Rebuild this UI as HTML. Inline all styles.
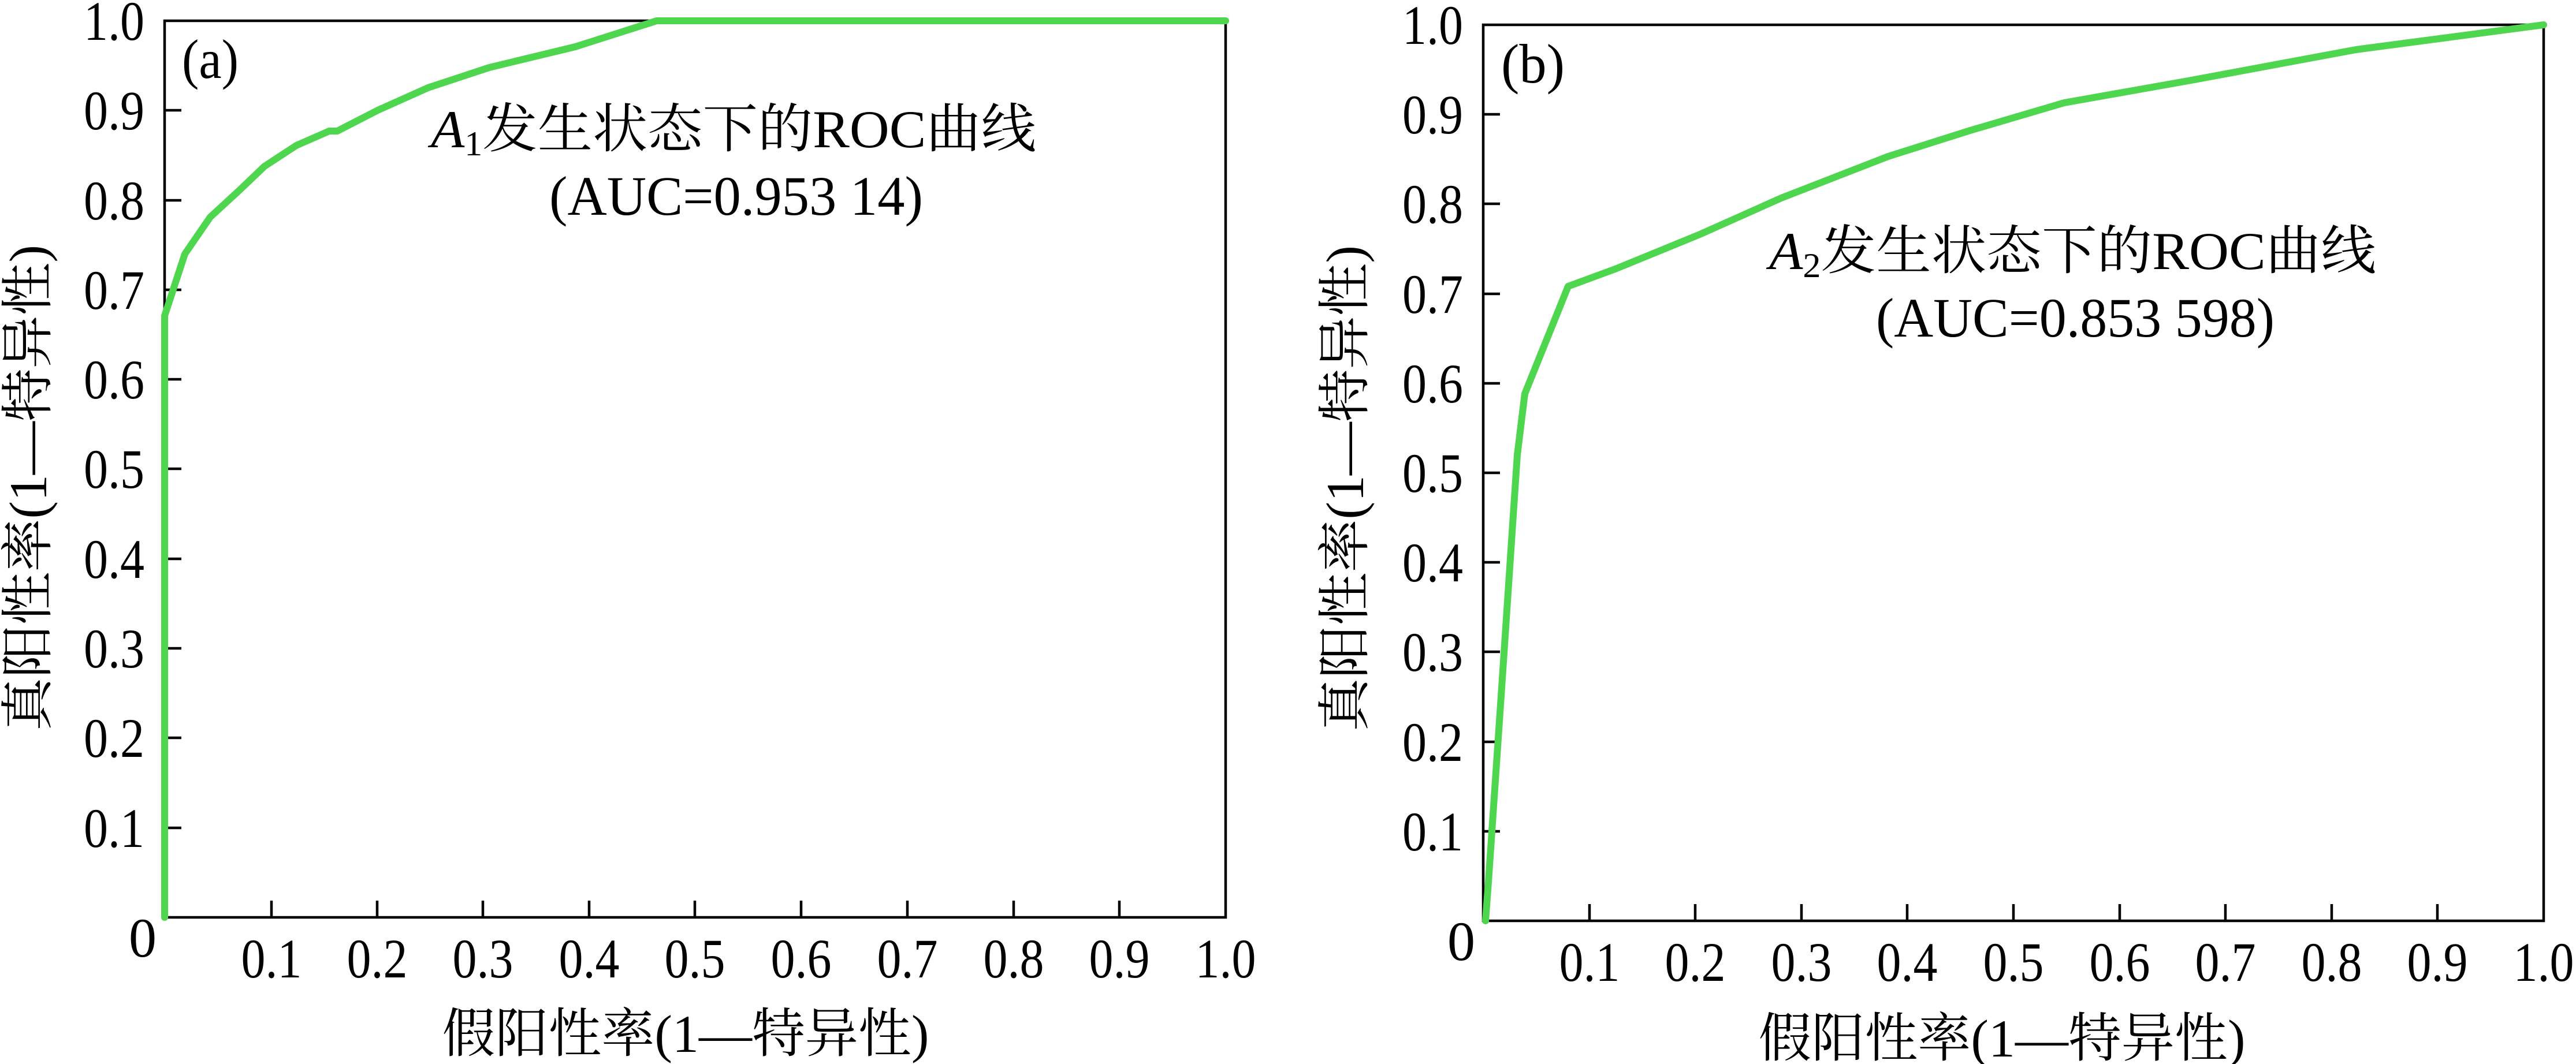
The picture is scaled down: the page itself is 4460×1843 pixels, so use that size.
<!DOCTYPE html>
<html><head><meta charset="utf-8"><style>html,body{margin:0;padding:0;background:#fff}svg{display:block}svg text{font-family:"Liberation Serif","Noto Serif CJK SC",serif}</style></head><body>
<svg width="4460" height="1843" viewBox="0 0 4460 1843" xmlns="http://www.w3.org/2000/svg" fill="#000">
<rect width="4460" height="1843" fill="#fff"/>
<!-- Panel a -->
<g stroke="#000" stroke-width="4.5" fill="none">
<rect x="285" y="36" width="1837" height="1553"/>
<path d="M470 1589v-29M653 1589v-29M836 1589v-29M1020 1589v-29M1203 1589v-29M1387 1589v-29M1571 1589v-29M1755 1589v-29M1938 1589v-29
M285 1434h29M285 1278h29M285 1123h29M285 968h29M285 812h29M285 657h29M285 502h29M285 347h29M285 191h29"/>
</g>
<polyline fill="none" stroke="#4fd64f" stroke-width="12" stroke-linejoin="round" stroke-linecap="round" points="285,1589 285,547 320,440 364,376 414,330 458,288 513,252 570,227 584,227 654,191 741,152 847,117 996,81 1137,36 2122,36"/>
<g font-size="96" text-anchor="end">
<text x="250" y="69" textLength="105" lengthAdjust="spacingAndGlyphs">1.0</text>
<text x="250" y="224" textLength="105" lengthAdjust="spacingAndGlyphs">0.9</text>
<text x="250" y="380" textLength="105" lengthAdjust="spacingAndGlyphs">0.8</text>
<text x="250" y="535" textLength="105" lengthAdjust="spacingAndGlyphs">0.7</text>
<text x="250" y="690" textLength="105" lengthAdjust="spacingAndGlyphs">0.6</text>
<text x="250" y="845" textLength="105" lengthAdjust="spacingAndGlyphs">0.5</text>
<text x="250" y="1001" textLength="105" lengthAdjust="spacingAndGlyphs">0.4</text>
<text x="250" y="1156" textLength="105" lengthAdjust="spacingAndGlyphs">0.3</text>
<text x="250" y="1311" textLength="105" lengthAdjust="spacingAndGlyphs">0.2</text>
<text x="250" y="1467" textLength="105" lengthAdjust="spacingAndGlyphs">0.1</text>
<text x="271" y="1657">0</text>
</g>
<g font-size="96" text-anchor="middle">
<text x="470" y="1693" textLength="105" lengthAdjust="spacingAndGlyphs">0.1</text>
<text x="653" y="1693" textLength="105" lengthAdjust="spacingAndGlyphs">0.2</text>
<text x="836" y="1693" textLength="105" lengthAdjust="spacingAndGlyphs">0.3</text>
<text x="1020" y="1693" textLength="105" lengthAdjust="spacingAndGlyphs">0.4</text>
<text x="1203" y="1693" textLength="105" lengthAdjust="spacingAndGlyphs">0.5</text>
<text x="1387" y="1693" textLength="105" lengthAdjust="spacingAndGlyphs">0.6</text>
<text x="1571" y="1693" textLength="105" lengthAdjust="spacingAndGlyphs">0.7</text>
<text x="1755" y="1693" textLength="105" lengthAdjust="spacingAndGlyphs">0.8</text>
<text x="1938" y="1693" textLength="105" lengthAdjust="spacingAndGlyphs">0.9</text>
<text x="2122" y="1693" textLength="105" lengthAdjust="spacingAndGlyphs">1.0</text>
</g>
<text x="315" y="135" font-size="96" textLength="98" lengthAdjust="spacingAndGlyphs">(a)</text>
<text x="746" y="255" font-size="92" textLength="1048" lengthAdjust="spacingAndGlyphs"><tspan font-style="italic">A</tspan><tspan font-size="60" dy="14">1</tspan><tspan dy="-14">发生状态下的ROC曲线</tspan></text>
<text x="951" y="372" font-size="96" textLength="647" lengthAdjust="spacingAndGlyphs">(AUC=0.953 14)</text>
<text x="1187" y="1822" font-size="92" text-anchor="middle" textLength="843" lengthAdjust="spacingAndGlyphs">假阳性率(1—特异性)</text>
<text transform="translate(80,845) rotate(-90)" font-size="92" text-anchor="middle" textLength="842" lengthAdjust="spacingAndGlyphs">真阳性率(1—特异性)</text>

<!-- Panel b -->
<g stroke="#000" stroke-width="4.5" fill="none">
<rect x="2568" y="43" width="1836" height="1552"/>
<path d="M2752 1595v-29M2935 1595v-29M3119 1595v-29M3302 1595v-29M3486 1595v-29M3670 1595v-29M3853 1595v-29M4037 1595v-29M4220 1595v-29
M2568 1440h29M2568 1285h29M2568 1129h29M2568 974h29M2568 819h29M2568 664h29M2568 509h29M2568 353h29M2568 198h29"/>
</g>
<polyline fill="none" stroke="#4fd64f" stroke-width="12" stroke-linejoin="round" stroke-linecap="round" points="2572,1595 2577,1528 2601,1176 2627,788 2640,682 2715,496 2799,465 2943,406 3084,343 3269,271 3411,226 3574,178 3794,139 4079,86 4404,43"/>
<g font-size="96" text-anchor="end">
<text x="2533" y="76" textLength="105" lengthAdjust="spacingAndGlyphs">1.0</text>
<text x="2533" y="231" textLength="105" lengthAdjust="spacingAndGlyphs">0.9</text>
<text x="2533" y="386" textLength="105" lengthAdjust="spacingAndGlyphs">0.8</text>
<text x="2533" y="542" textLength="105" lengthAdjust="spacingAndGlyphs">0.7</text>
<text x="2533" y="697" textLength="105" lengthAdjust="spacingAndGlyphs">0.6</text>
<text x="2533" y="852" textLength="105" lengthAdjust="spacingAndGlyphs">0.5</text>
<text x="2533" y="1007" textLength="105" lengthAdjust="spacingAndGlyphs">0.4</text>
<text x="2533" y="1162" textLength="105" lengthAdjust="spacingAndGlyphs">0.3</text>
<text x="2533" y="1318" textLength="105" lengthAdjust="spacingAndGlyphs">0.2</text>
<text x="2533" y="1473" textLength="105" lengthAdjust="spacingAndGlyphs">0.1</text>
<text x="2554" y="1663">0</text>
</g>
<g font-size="96" text-anchor="middle">
<text x="2752" y="1699" textLength="105" lengthAdjust="spacingAndGlyphs">0.1</text>
<text x="2935" y="1699" textLength="105" lengthAdjust="spacingAndGlyphs">0.2</text>
<text x="3119" y="1699" textLength="105" lengthAdjust="spacingAndGlyphs">0.3</text>
<text x="3302" y="1699" textLength="105" lengthAdjust="spacingAndGlyphs">0.4</text>
<text x="3486" y="1699" textLength="105" lengthAdjust="spacingAndGlyphs">0.5</text>
<text x="3670" y="1699" textLength="105" lengthAdjust="spacingAndGlyphs">0.6</text>
<text x="3853" y="1699" textLength="105" lengthAdjust="spacingAndGlyphs">0.7</text>
<text x="4037" y="1699" textLength="105" lengthAdjust="spacingAndGlyphs">0.8</text>
<text x="4220" y="1699" textLength="105" lengthAdjust="spacingAndGlyphs">0.9</text>
<text x="4404" y="1699" textLength="105" lengthAdjust="spacingAndGlyphs">1.0</text>
</g>
<text x="2599" y="143" font-size="96" textLength="110" lengthAdjust="spacingAndGlyphs">(b)</text>
<text x="3063" y="466" font-size="92" textLength="1051" lengthAdjust="spacingAndGlyphs"><tspan font-style="italic">A</tspan><tspan font-size="60" dy="14">2</tspan><tspan dy="-14">发生状态下的ROC曲线</tspan></text>
<text x="3248" y="583" font-size="96" textLength="690" lengthAdjust="spacingAndGlyphs">(AUC=0.853 598)</text>
<text x="3466" y="1830" font-size="92" text-anchor="middle" textLength="843" lengthAdjust="spacingAndGlyphs">假阳性率(1—特异性)</text>
<text transform="translate(2360,846) rotate(-90)" font-size="92" text-anchor="middle" textLength="842" lengthAdjust="spacingAndGlyphs">真阳性率(1—特异性)</text>
</svg>
</body></html>
